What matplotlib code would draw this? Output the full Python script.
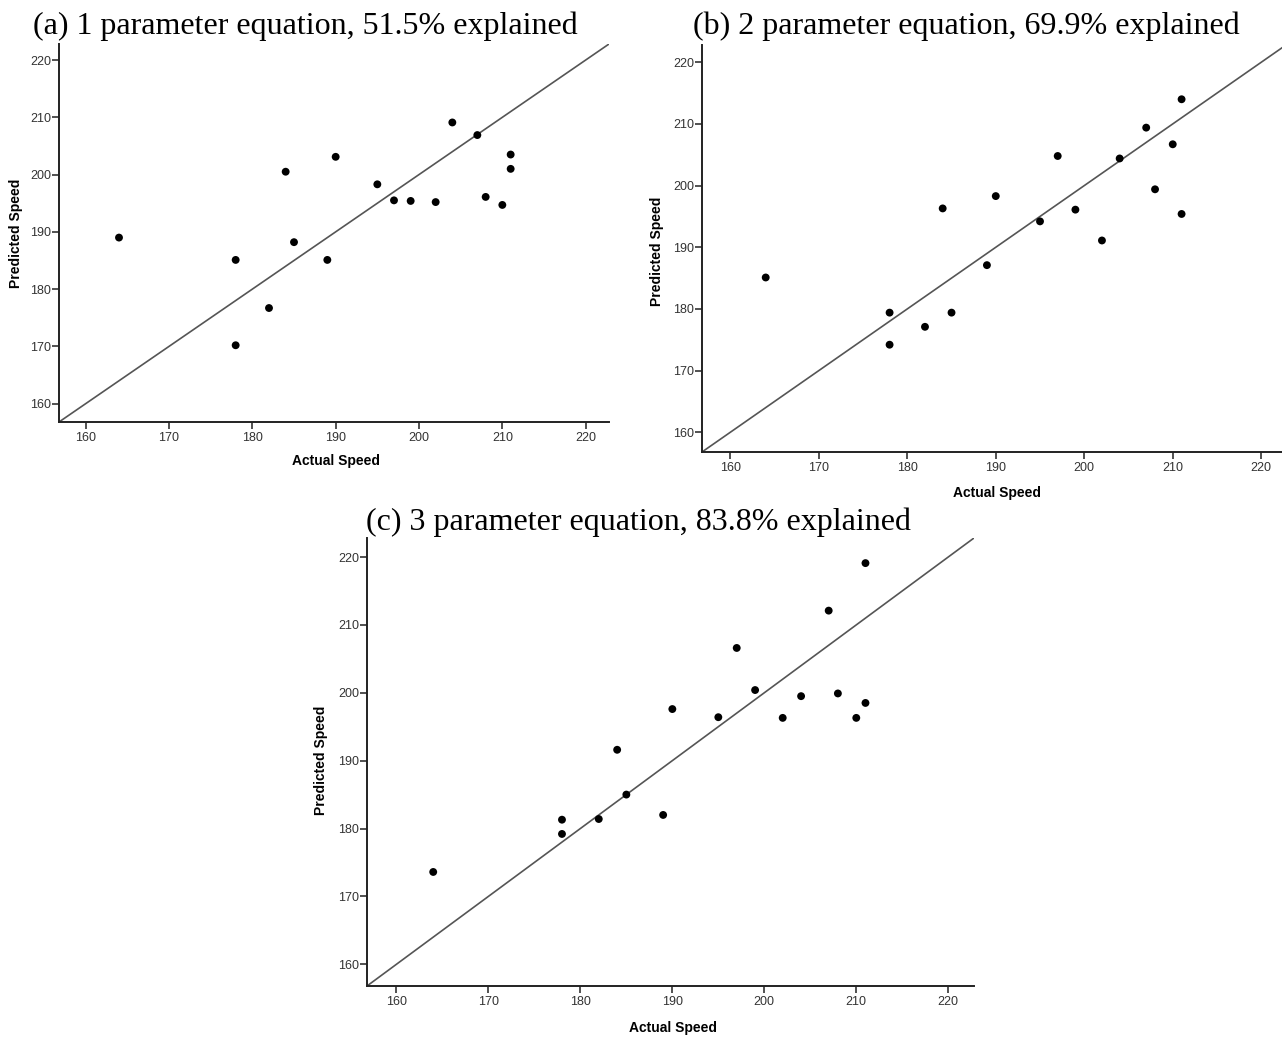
import matplotlib
matplotlib.use("Agg")
import matplotlib.pyplot as plt

# Actual vs predicted speed for the three fitted equations
actual = [164, 178, 178, 182, 184, 185, 189, 190, 195, 197, 199, 202, 204, 207, 208, 210, 211, 211]
pred_1 = [189.0, 185.1, 170.2, 176.7, 200.5, 188.2, 185.1, 203.1, 198.3, 195.5, 195.4, 195.2,
          209.1, 206.9, 196.1, 194.7, 203.5, 201.0]
pred_2 = [185.1, 179.4, 174.2, 177.1, 196.3, 179.4, 187.1, 198.3, 194.2, 204.8, 196.1, 191.1,
          204.4, 209.4, 199.4, 206.7, 214.0, 195.4]
pred_3 = [173.6, 181.3, 179.2, 181.4, 191.6, 185.0, 182.0, 197.6, 196.4, 206.6, 200.4, 196.3,
          199.5, 212.1, 199.9, 196.3, 219.1, 198.5]

titles = ["(a) 1 parameter equation, 51.5% explained",
          "(b) 2 parameter equation, 69.9% explained",
          "(c) 3 parameter equation, 83.8% explained"]
ticks = [160, 170, 180, 190, 200, 210, 220]
lims = (156.8, 222.8)

W, H = 1282, 1037
fig = plt.figure(figsize=(W / 100, H / 100), dpi=100)


def px_axes(left, top, right, bottom):
    return fig.add_axes([left / W, 1 - bottom / H, (right - left) / W, (bottom - top) / H])


tick_font = ["Liberation Sans Narrow", "Liberation Sans", "DejaVu Sans"]
label_font = ["Liberation Sans", "DejaVu Sans"]
title_font = ["Liberation Serif", "DejaVu Serif"]

panels = [
    (px_axes(59, 44, 609, 422), pred_1, (305, 34), (336, 461), (16, 233)),
    (px_axes(702, 45, 1286, 452), pred_2, (966, 34), (997, 493), (657, 251)),
    (px_axes(367, 538, 974, 986), pred_3, (639, 530), (673, 1028), (321, 760)),
]

for i, (ax, pred, tpos, xlpos, ylpos) in enumerate(panels):
    ax.scatter(actual, pred, s=32, color="black", edgecolors="none", zorder=3)
    ax.axline((160, 160), (220, 220), color="#555555", linewidth=1.2, zorder=2)
    ax.set_xlim(lims)
    ax.set_ylim(lims)
    ax.set_xticks(ticks)
    ax.set_yticks(ticks)
    for side in ("top", "right"):
        ax.spines[side].set_visible(False)
    for side in ("left", "bottom"):
        ax.spines[side].set_linewidth(1.4)
        ax.spines[side].set_color("#222222")
    ax.tick_params(direction="out", length=5, width=1.2, color="#333333",
                   labelsize=9, labelcolor="#333333")
    ax.tick_params(axis="x", pad=2)
    ax.tick_params(axis="y", pad=0.5)
    for lab in ax.get_xticklabels() + ax.get_yticklabels():
        lab.set_family(tick_font)

    fig.text(tpos[0] / W, 1 - tpos[1] / H, titles[i], ha="center", va="baseline",
             fontsize=23, family=title_font)
    fig.text(xlpos[0] / W, 1 - xlpos[1] / H, "Actual Speed", ha="center", va="center",
             fontsize=10, fontweight="bold", family=label_font)
    fig.text(ylpos[0] / W, 1 - ylpos[1] / H, "Predicted Speed", ha="center", va="center",
             rotation=90, fontsize=10, fontweight="bold", family=label_font)

fig.savefig("out.png", dpi=100)
